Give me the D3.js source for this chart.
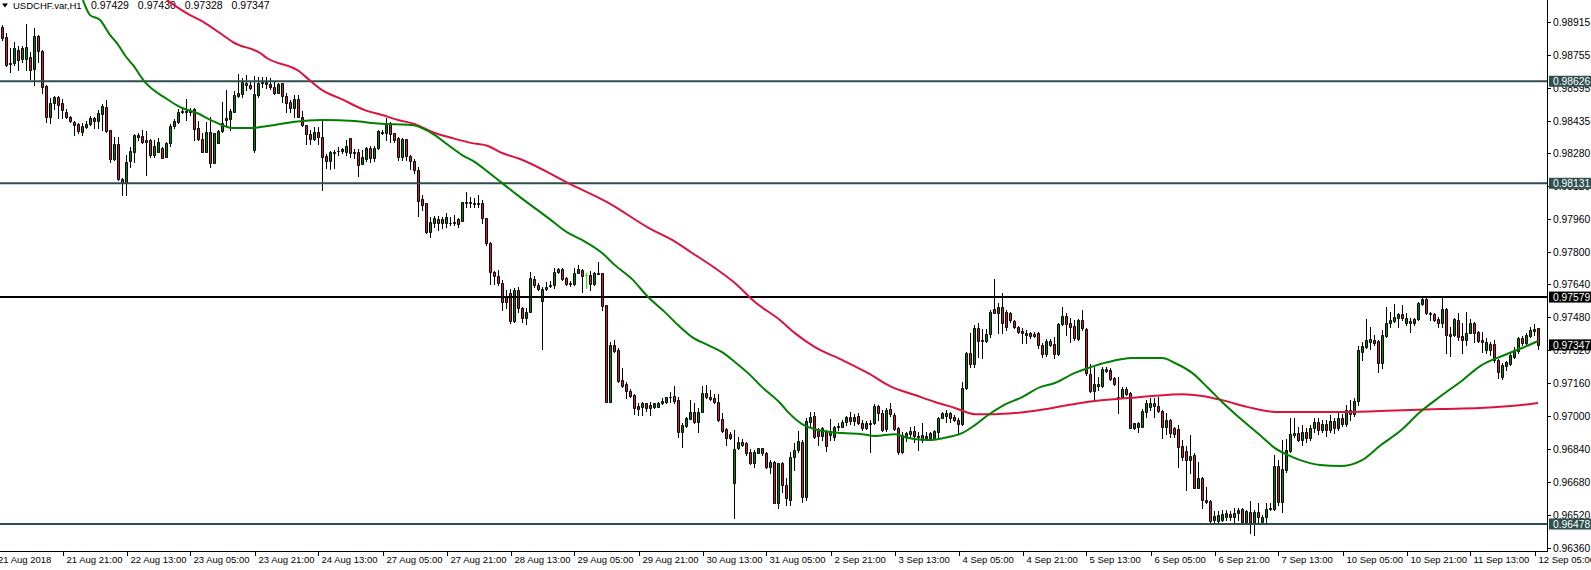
<!DOCTYPE html>
<html><head><meta charset="utf-8">
<script src="https://cdn.jsdelivr.net/npm/d3@7"></script>
<style>
html,body{margin:0;padding:0;background:#fff;overflow:hidden}
svg{display:block}
text{font-family:"Liberation Sans",Arial,sans-serif;font-size:9.5px;fill:#000}
text.num{font-size:10.3px}
text.ttl{font-size:10.5px;word-spacing:6px}
</style></head><body>
<svg id="chart" width="1591" height="570"></svg>
<script>
const symbolName = "USDCHF.var,H1";
const opens = [0.98891,0.98842,0.98713,0.98713,0.98777,0.98732,0.98732,0.98745,0.98684,0.98845,0.98773,0.98603,0.98451,0.98519,0.98551,0.98519,0.98478,0.98451,0.98427,0.98418,
0.98381,0.98405,0.98417,0.98446,0.98434,0.98467,0.98499,0.98389,0.98247,0.98321,0.98152,0.98134,0.98240,0.98284,0.98355,0.98360,0.98341,0.98341,0.98268,0.98284,
0.98300,0.98260,0.98325,0.98409,0.98427,0.98475,0.98483,0.98475,0.98490,0.98398,0.98344,0.98284,0.98378,0.98231,0.98328,0.98384,0.98446,0.98443,0.98478,0.98556,
0.98564,0.98619,0.98608,0.98292,0.98559,0.98617,0.98611,0.98612,0.98599,0.98570,0.98616,0.98554,0.98524,0.98497,0.98538,0.98451,0.98412,0.98368,0.98347,0.98380,
0.98357,0.98263,0.98240,0.98276,0.98286,0.98289,0.98284,0.98349,0.98284,0.98281,0.98224,0.98247,0.98303,0.98255,0.98300,0.98381,0.98373,0.98425,0.98373,0.98349,
0.98260,0.98346,0.98263,0.98240,0.98195,0.98053,0.98034,0.97896,0.97937,0.97957,0.97937,0.97937,0.97940,0.97941,0.97957,0.97949,0.98040,0.98040,0.98037,0.98030,
0.98034,0.97961,0.97842,0.97699,0.97681,0.97645,0.97580,0.97597,0.97463,0.97613,0.97524,0.97476,0.97505,0.97665,0.97637,0.97561,0.97616,0.97632,0.97637,0.97702,
0.97713,0.97670,0.97648,0.97643,0.97697,0.97710,0.97686,0.97686,0.97641,0.97697,0.97694,0.97540,0.97071,0.97346,0.97322,0.97176,0.97155,0.97124,0.97103,0.97052,
0.97044,0.97063,0.97039,0.97047,0.97047,0.97063,0.97068,0.97092,0.97099,0.97079,0.96925,0.96955,0.96987,0.97023,0.96974,0.97023,0.97112,0.97095,0.97087,0.97068,
0.96986,0.96937,0.96893,0.96678,0.96845,0.96877,0.96869,0.96828,0.96775,0.96824,0.96845,0.96824,0.96756,0.96780,0.96578,0.96772,0.96667,0.96594,0.96801,0.96837,
0.96877,0.96609,0.96974,0.97003,0.96934,0.96906,0.96929,0.96909,0.96901,0.96947,0.96950,0.96974,0.96998,0.96979,0.97002,0.96969,0.96942,0.96966,0.96966,0.97050,
0.97018,0.96937,0.97034,0.97006,0.96942,0.96828,0.96906,0.96914,0.96929,0.96906,0.96885,0.96905,0.96893,0.96896,0.96925,0.96990,0.97003,0.97015,0.96998,0.96982,
0.96963,0.97136,0.97306,0.97254,0.97427,0.97370,0.97367,0.97398,0.97519,0.97500,0.97529,0.97505,0.97503,0.97464,0.97432,0.97414,0.97395,0.97403,0.97398,0.97403,
0.97346,0.97301,0.97367,0.97351,0.97301,0.97447,0.97487,0.97454,0.97438,0.97374,0.97467,0.97424,0.97205,0.97124,0.97149,0.97149,0.97230,0.97225,0.97185,0.97092,
0.97092,0.97133,0.97112,0.96942,0.96950,0.96950,0.97023,0.97044,0.97066,0.97050,0.97027,0.96947,0.96982,0.96942,0.96937,0.96856,0.96832,0.96788,0.96812,0.96654,
0.96702,0.96594,0.96589,0.96497,0.96494,0.96497,0.96513,0.96526,0.96513,0.96530,0.96549,0.96489,0.96537,0.96481,0.96537,0.96489,0.96513,0.96550,0.96550,0.96759,
0.96583,0.96740,0.96833,0.96909,0.96918,0.96885,0.96924,0.96895,0.96943,0.96972,0.96934,0.96963,0.96934,0.96977,0.96943,0.96992,0.96963,0.97031,0.97011,0.97074,
0.97314,0.97338,0.97362,0.97370,0.97365,0.97260,0.97391,0.97454,0.97464,0.97476,0.97497,0.97451,0.97464,0.97451,0.97471,0.97545,0.97568,0.97500,0.97497,0.97471,
0.97454,0.97519,0.97399,0.97395,0.97467,0.97390,0.97370,0.97406,0.97451,0.97411,0.97370,0.97322,0.97351,0.97351,0.97273,0.97192,0.97244,0.97254,0.97289,0.97318,
0.97379,0.97357,0.97390,0.97414,0.97429];
const highs = [0.98899,0.98860,0.98787,0.98818,0.98797,0.98797,0.98902,0.98768,0.98883,0.98850,0.98777,0.98608,0.98543,0.98554,0.98554,0.98538,0.98490,0.98457,0.98434,0.98425,
0.98422,0.98434,0.98457,0.98451,0.98486,0.98514,0.98535,0.98389,0.98357,0.98354,0.98156,0.98268,0.98308,0.98370,0.98373,0.98389,0.98384,0.98344,0.98341,0.98349,
0.98308,0.98332,0.98417,0.98441,0.98490,0.98490,0.98538,0.98495,0.98495,0.98433,0.98373,0.98430,0.98454,0.98373,0.98389,0.98524,0.98583,0.98490,0.98580,0.98661,
0.98640,0.98656,0.98624,0.98651,0.98648,0.98648,0.98645,0.98640,0.98621,0.98619,0.98619,0.98567,0.98535,0.98559,0.98559,0.98483,0.98412,0.98389,0.98405,0.98405,
0.98433,0.98273,0.98287,0.98292,0.98308,0.98303,0.98341,0.98349,0.98296,0.98296,0.98292,0.98308,0.98312,0.98312,0.98389,0.98389,0.98449,0.98430,0.98376,0.98357,
0.98349,0.98346,0.98268,0.98247,0.98211,0.98074,0.98034,0.97969,0.97972,0.97972,0.97969,0.97988,0.97969,0.97977,0.97961,0.98041,0.98090,0.98066,0.98061,0.98074,
0.98050,0.97961,0.97847,0.97707,0.97710,0.97661,0.97613,0.97616,0.97621,0.97629,0.97532,0.97524,0.97699,0.97681,0.97648,0.97629,0.97653,0.97658,0.97718,0.97721,
0.97718,0.97675,0.97658,0.97718,0.97734,0.97713,0.97694,0.97707,0.97702,0.97750,0.97697,0.97540,0.97362,0.97370,0.97330,0.97233,0.97168,0.97133,0.97108,0.97063,
0.97071,0.97066,0.97071,0.97066,0.97071,0.97087,0.97095,0.97120,0.97147,0.97095,0.96966,0.96998,0.97079,0.97063,0.97039,0.97149,0.97152,0.97128,0.97108,0.97108,
0.97018,0.96942,0.96925,0.96934,0.96901,0.96889,0.96877,0.96840,0.96837,0.96845,0.96845,0.96828,0.96788,0.96785,0.96774,0.96778,0.96701,0.96828,0.96869,0.96929,
0.96885,0.96992,0.97023,0.97023,0.96942,0.96950,0.96934,0.96986,0.96953,0.96966,0.96982,0.97003,0.97023,0.97011,0.97018,0.96982,0.96977,0.96982,0.97058,0.97055,
0.97031,0.97039,0.97063,0.97015,0.96950,0.96925,0.96925,0.96950,0.96953,0.96925,0.96966,0.96925,0.96925,0.96934,0.96998,0.97023,0.97031,0.97023,0.97006,0.96990,
0.97168,0.97314,0.97403,0.97443,0.97451,0.97422,0.97422,0.97516,0.97665,0.97548,0.97597,0.97516,0.97508,0.97467,0.97438,0.97427,0.97419,0.97411,0.97411,0.97411,
0.97354,0.97374,0.97374,0.97386,0.97451,0.97529,0.97500,0.97476,0.97467,0.97471,0.97516,0.97427,0.97254,0.97238,0.97192,0.97238,0.97238,0.97233,0.97189,0.97189,
0.97144,0.97141,0.97120,0.96969,0.96974,0.97034,0.97079,0.97087,0.97087,0.97092,0.97031,0.97018,0.96986,0.96950,0.96958,0.96885,0.96856,0.96909,0.96821,0.96780,
0.96707,0.96659,0.96594,0.96542,0.96542,0.96546,0.96546,0.96542,0.96554,0.96554,0.96554,0.96546,0.96591,0.96546,0.96578,0.96521,0.96578,0.96578,0.96812,0.96788,
0.96885,0.96889,0.96990,0.96990,0.96950,0.96958,0.96943,0.96958,0.96992,0.96992,0.96982,0.96982,0.97006,0.96992,0.97021,0.97011,0.97055,0.97079,0.97089,0.97341,
0.97362,0.97471,0.97435,0.97395,0.97370,0.97419,0.97532,0.97508,0.97544,0.97503,0.97540,0.97500,0.97476,0.97476,0.97556,0.97578,0.97584,0.97508,0.97503,0.97483,
0.97578,0.97524,0.97435,0.97476,0.97503,0.97451,0.97505,0.97471,0.97459,0.97415,0.97411,0.97379,0.97362,0.97370,0.97277,0.97257,0.97270,0.97306,0.97338,0.97386,
0.97390,0.97406,0.97435,0.97447,0.97430];
const lows = [0.98826,0.98700,0.98672,0.98705,0.98680,0.98719,0.98680,0.98635,0.98608,0.98721,0.98567,0.98430,0.98422,0.98490,0.98446,0.98446,0.98446,0.98430,0.98365,0.98373,
0.98365,0.98398,0.98414,0.98398,0.98398,0.98389,0.98381,0.98236,0.98244,0.98147,0.98074,0.98074,0.98211,0.98236,0.98341,0.98325,0.98171,0.98260,0.98260,0.98284,
0.98252,0.98257,0.98312,0.98398,0.98422,0.98470,0.98438,0.98462,0.98341,0.98341,0.98281,0.98281,0.98211,0.98228,0.98328,0.98378,0.98414,0.98389,0.98475,0.98551,
0.98551,0.98583,0.98588,0.98284,0.98551,0.98599,0.98592,0.98587,0.98564,0.98567,0.98527,0.98478,0.98478,0.98454,0.98451,0.98409,0.98321,0.98321,0.98341,0.98321,
0.98098,0.98203,0.98200,0.98203,0.98268,0.98276,0.98268,0.98260,0.98255,0.98168,0.98224,0.98239,0.98236,0.98240,0.98296,0.98370,0.98341,0.98332,0.98332,0.98244,
0.98244,0.98244,0.98199,0.98179,0.97972,0.98001,0.97888,0.97872,0.97920,0.97904,0.97912,0.97920,0.97928,0.97928,0.97920,0.97949,0.98017,0.98017,0.98017,0.98017,
0.97937,0.97831,0.97641,0.97641,0.97637,0.97516,0.97524,0.97451,0.97459,0.97508,0.97459,0.97448,0.97505,0.97629,0.97613,0.97325,0.97613,0.97629,0.97621,0.97694,
0.97661,0.97637,0.97634,0.97637,0.97694,0.97602,0.97624,0.97613,0.97637,0.97689,0.97516,0.97071,0.97071,0.97314,0.97168,0.97144,0.97087,0.97095,0.97011,0.97006,
0.97006,0.97027,0.97006,0.97039,0.97047,0.97060,0.97063,0.97071,0.97066,0.96898,0.96853,0.96950,0.96987,0.96966,0.96925,0.97020,0.97087,0.97079,0.97063,0.96979,
0.96925,0.96861,0.96889,0.96505,0.96840,0.96856,0.96812,0.96769,0.96756,0.96821,0.96812,0.96748,0.96724,0.96578,0.96555,0.96633,0.96570,0.96570,0.96740,0.96828,
0.96584,0.96594,0.96950,0.96893,0.96861,0.96885,0.96833,0.96885,0.96885,0.96934,0.96947,0.96958,0.96961,0.96958,0.96963,0.96934,0.96937,0.96828,0.96963,0.96982,
0.96930,0.96930,0.97003,0.96934,0.96817,0.96821,0.96882,0.96901,0.96877,0.96837,0.96877,0.96885,0.96885,0.96893,0.96893,0.96990,0.96974,0.96974,0.96977,0.96914,
0.96958,0.97131,0.97241,0.97241,0.97289,0.97282,0.97362,0.97386,0.97500,0.97403,0.97403,0.97419,0.97459,0.97427,0.97406,0.97357,0.97357,0.97379,0.97386,0.97330,
0.97289,0.97293,0.97341,0.97284,0.97298,0.97443,0.97395,0.97362,0.97370,0.97370,0.97419,0.97201,0.97120,0.97074,0.97128,0.97144,0.97217,0.97176,0.97152,0.97018,
0.97087,0.97103,0.96942,0.96937,0.96925,0.96947,0.96998,0.97031,0.96998,0.97023,0.96893,0.96914,0.96901,0.96901,0.96756,0.96788,0.96643,0.96724,0.96651,0.96651,
0.96554,0.96578,0.96489,0.96481,0.96489,0.96492,0.96497,0.96497,0.96489,0.96497,0.96484,0.96481,0.96432,0.96424,0.96481,0.96484,0.96481,0.96546,0.96546,0.96570,
0.96537,0.96731,0.96828,0.96901,0.96882,0.96861,0.96875,0.96885,0.96924,0.96914,0.96924,0.96905,0.96924,0.96919,0.96934,0.96953,0.96953,0.96982,0.97002,0.97055,
0.97273,0.97330,0.97325,0.97346,0.97217,0.97233,0.97386,0.97435,0.97459,0.97435,0.97467,0.97443,0.97411,0.97443,0.97467,0.97540,0.97497,0.97467,0.97464,0.97435,
0.97435,0.97306,0.97293,0.97390,0.97370,0.97309,0.97346,0.97403,0.97362,0.97362,0.97314,0.97306,0.97298,0.97265,0.97185,0.97181,0.97225,0.97249,0.97282,0.97306,
0.97346,0.97351,0.97386,0.97395,0.97328];
const closes = [0.98837,0.98705,0.98708,0.98786,0.98729,0.98789,0.98790,0.98680,0.98845,0.98773,0.98599,0.98451,0.98519,0.98548,0.98511,0.98486,0.98451,0.98434,0.98414,0.98384,
0.98409,0.98418,0.98446,0.98434,0.98470,0.98507,0.98386,0.98247,0.98321,0.98150,0.98134,0.98236,0.98287,0.98365,0.98365,0.98332,0.98332,0.98268,0.98312,0.98330,
0.98255,0.98328,0.98409,0.98433,0.98478,0.98483,0.98475,0.98486,0.98393,0.98344,0.98284,0.98378,0.98231,0.98373,0.98384,0.98422,0.98438,0.98481,0.98559,0.98570,
0.98624,0.98608,0.98592,0.98564,0.98619,0.98622,0.98624,0.98596,0.98567,0.98611,0.98554,0.98522,0.98497,0.98538,0.98451,0.98412,0.98368,0.98347,0.98380,0.98357,
0.98260,0.98240,0.98281,0.98284,0.98289,0.98296,0.98312,0.98276,0.98276,0.98219,0.98260,0.98300,0.98255,0.98300,0.98384,0.98373,0.98414,0.98370,0.98341,0.98260,
0.98344,0.98263,0.98240,0.98195,0.98046,0.98025,0.97896,0.97941,0.97961,0.97937,0.97956,0.97969,0.97937,0.97937,0.97933,0.98038,0.98034,0.98034,0.98030,0.98037,
0.97961,0.97840,0.97699,0.97681,0.97645,0.97556,0.97556,0.97463,0.97613,0.97524,0.97476,0.97508,0.97670,0.97637,0.97616,0.97616,0.97629,0.97637,0.97702,0.97713,
0.97665,0.97641,0.97641,0.97697,0.97713,0.97681,0.97686,0.97641,0.97694,0.97689,0.97537,0.97071,0.97346,0.97318,0.97171,0.97147,0.97124,0.97100,0.97039,0.97034,
0.97063,0.97042,0.97055,0.97063,0.97066,0.97074,0.97092,0.97095,0.97076,0.96925,0.96958,0.96990,0.97020,0.96974,0.97023,0.97112,0.97092,0.97083,0.97071,0.96982,
0.96930,0.96893,0.96914,0.96840,0.96877,0.96861,0.96821,0.96775,0.96828,0.96845,0.96821,0.96756,0.96780,0.96578,0.96772,0.96667,0.96604,0.96801,0.96837,0.96882,
0.96609,0.96977,0.96998,0.96901,0.96906,0.96942,0.96857,0.96929,0.96947,0.96953,0.96974,0.96998,0.96979,0.96998,0.96966,0.96942,0.96969,0.96963,0.97050,0.97018,
0.96934,0.97031,0.97010,0.96939,0.96828,0.96909,0.96918,0.96930,0.96906,0.96901,0.96909,0.96893,0.96920,0.96929,0.96993,0.97015,0.97015,0.96990,0.96982,0.96963,
0.97136,0.97306,0.97254,0.97427,0.97367,0.97365,0.97398,0.97508,0.97503,0.97529,0.97451,0.97435,0.97467,0.97432,0.97411,0.97406,0.97406,0.97390,0.97390,0.97346,
0.97302,0.97367,0.97346,0.97301,0.97447,0.97487,0.97447,0.97435,0.97379,0.97467,0.97427,0.97209,0.97124,0.97157,0.97157,0.97230,0.97221,0.97181,0.97157,0.97087,
0.97131,0.97108,0.96942,0.96966,0.96966,0.97027,0.97063,0.97066,0.97050,0.97027,0.96950,0.96982,0.96918,0.96914,0.96853,0.96804,0.96788,0.96808,0.96654,0.96699,
0.96594,0.96583,0.96494,0.96516,0.96521,0.96526,0.96530,0.96510,0.96532,0.96546,0.96489,0.96542,0.96481,0.96537,0.96513,0.96513,0.96550,0.96557,0.96759,0.96583,
0.96744,0.96837,0.96914,0.96918,0.96885,0.96924,0.96895,0.96943,0.96972,0.96934,0.96963,0.96934,0.96977,0.96943,0.96992,0.96963,0.97031,0.97011,0.97074,0.97322,
0.97341,0.97370,0.97374,0.97354,0.97260,0.97395,0.97454,0.97467,0.97483,0.97497,0.97476,0.97476,0.97451,0.97471,0.97548,0.97568,0.97500,0.97495,0.97467,0.97454,
0.97519,0.97395,0.97390,0.97471,0.97386,0.97370,0.97406,0.97451,0.97406,0.97365,0.97359,0.97362,0.97322,0.97273,0.97217,0.97249,0.97265,0.97298,0.97322,0.97379,
0.97354,0.97395,0.97419,0.97422,0.97347];

// moving averages: [bar index, value]
const maFastBars = [20.1,21.9,24.4,26.9,28.6,31.1,32.6,35.4,41.1,44.4,48.6,52.6,57.6,62.6,64.4,68.1,73.1,79.9,88.1,93.1,98.1,102.4,104.9,108.1,111.4,114.9,118.1,121.4,124.9,129.4,136.4,141.4,144.9,149.9,153.1,157.4,161.4,165.6,168.9,172.4,176.4,179.9,183.1,186.4,189.9,194.4,196.4,199.9,203.9,209.9,214.9,218.1,223.1,226.4,231.4,236.4,239.9,243.1,246.4,249.9,254.9,259.4,263.1,268.1,271.4,276.4,282.4,289.9,293.1,297.4,301.4,304.9,309.9,314.9,318.1,321.4,324.4,329.4,334.4,339.9,344.6,349.4,354.4,359.6,365.1,369.4,374.9,379.9,383.9];
const maFastValues = [0.99020,0.98947,0.98923,0.98850,0.98811,0.98739,0.98705,0.98627,0.98540,0.98501,0.98472,0.98433,0.98399,0.98399,0.98404,0.98414,0.98430,0.98438,0.98433,0.98422,0.98417,0.98414,0.98399,0.98365,0.98317,0.98268,0.98234,0.98186,0.98132,0.98064,0.97963,0.97890,0.97856,0.97793,0.97734,0.97666,0.97579,0.97506,0.97443,0.97385,0.97346,0.97312,0.97264,0.97210,0.97142,0.97065,0.97021,0.96963,0.96934,0.96919,0.96914,0.96905,0.96914,0.96895,0.96885,0.96900,0.96919,0.96958,0.97007,0.97050,0.97094,0.97142,0.97162,0.97211,0.97235,0.97264,0.97283,0.97283,0.97259,0.97211,0.97138,0.97070,0.96982,0.96900,0.96846,0.96812,0.96788,0.96764,0.96759,0.96788,0.96861,0.96929,0.97021,0.97099,0.97177,0.97244,0.97293,0.97332,0.97366];
const maSlowBars = [41.1,46.9,49.4,56.1,57.6,64.4,66.1,74.4,75.6,79.9,84.9,90.6,94.9,98.9,103.1,107.4,112.4,117.4,121.4,124.9,129.4,141.4,151.6,161.6,167.4,172.4,178.1,183.1,188.1,194.4,198.1,203.1,209.9,216.4,222.4,228.1,233.1,238.1,243.1,248.1,253.1,259.4,266.4,273.1,281.4,287.4,294.9,299.9,304.9,311.4,318.9,324.4,334.4,344.4,359.4,369.4,376.9,383.9];
const maSlowValues = [0.99020,0.98947,0.98923,0.98836,0.98816,0.98763,0.98739,0.98671,0.98651,0.98583,0.98538,0.98486,0.98462,0.98438,0.98418,0.98380,0.98351,0.98326,0.98312,0.98278,0.98249,0.98132,0.98035,0.97914,0.97856,0.97793,0.97720,0.97647,0.97555,0.97467,0.97404,0.97336,0.97274,0.97210,0.97142,0.97104,0.97070,0.97041,0.97011,0.97011,0.97016,0.97031,0.97055,0.97075,0.97089,0.97099,0.97108,0.97099,0.97079,0.97045,0.97021,0.97021,0.97021,0.97026,0.97036,0.97041,0.97050,0.97065];

const levelPrices = [0.98626, 0.98131, 0.97579, 0.96478];
const priceTicks = [0.98915,0.98755,0.98595,0.98435,0.98280,0.98120,0.97960,0.97800,0.97640,0.97480,0.97320,0.97160,0.97000,0.96840,0.96680,0.96520,0.96360];
const timeTickBars = [0,15,31,47,63,79,95,111,127,143,159,175,191,207,223,239,255,271,287,303,319,335,351,367,383];
const timeTickLabels = ["21 Aug 2018","21 Aug 21:00","22 Aug 13:00","23 Aug 05:00","23 Aug 21:00","24 Aug 13:00","27 Aug 05:00","27 Aug 21:00","28 Aug 13:00","29 Aug 05:00","29 Aug 21:00","30 Aug 13:00","31 Aug 05:00","2 Sep 21:00","3 Sep 13:00","4 Sep 05:00","4 Sep 21:00","5 Sep 13:00","6 Sep 05:00","6 Sep 21:00","7 Sep 13:00","10 Sep 05:00","10 Sep 21:00","11 Sep 13:00","12 Sep 05:00"];

// styles
const levelColors = ["#2f4f4f","#2f4f4f","#000000","#2f4f4f"];
const bullFill = "#008000", bearFill = "#c8202d", dojiColor = "#00ff00";

const W = 1591, H = 570, plotR = 1547, plotB = 551;
const n = closes.length;
const x = d3.scaleLinear().domain([0, n - 1]).range([2.5, 2.5 + 4 * (n - 1)]);
const y = d3.scaleLinear().domain([0.96347, 0.990203]).range([plotB, 0]);

const svg = d3.select("#chart");
svg.append("rect").attr("width", W).attr("height", H).attr("fill", "#fff");
svg.append("defs").append("clipPath").attr("id", "plot")
  .append("rect").attr("x", 0).attr("y", 0).attr("width", plotR).attr("height", plotB);

// title
const last = n - 1;
const title = svg.append("g");
title.append("path").attr("d", "M2,3.5L8,3.5L5,7.5Z").attr("fill", "#000");
title.append("text").attr("x", 13).attr("y", 9).text(symbolName);
title.append("text").attr("class", "ttl").attr("x", 91).attr("y", 9)
  .text([opens[last], highs[last], lows[last], closes[last]].map(v => v.toFixed(5)).join(" "));

const plot = svg.append("g").attr("clip-path", "url(#plot)");

// candles
const candles = plot.append("g");
d3.range(n).forEach(i => {
  const cx = x(i);
  const o = opens[i], c = closes[i];
  const doji = o === c;
  const col = doji ? dojiColor : "#000";
  candles.append("line").attr("x1", cx).attr("x2", cx)
    .attr("y1", Math.round(y(highs[i]))).attr("y2", Math.round(y(lows[i])) + 1)
    .attr("stroke", col).attr("stroke-width", 1);
  const yt = Math.round(y(Math.max(o, c))), yb = Math.round(y(Math.min(o, c)));
  candles.append("path")
    .attr("d", `M${cx - 1},${yt + 0.5}H${cx + 1}V${yb + 0.5}H${cx - 1}Z`)
    .attr("fill", doji ? dojiColor : (c > o ? bullFill : bearFill))
    .attr("stroke", col).attr("stroke-width", 1);
});

// horizontal levels
levelPrices.forEach((p, k) => {
  plot.append("line").attr("x1", 0).attr("x2", plotR)
    .attr("y1", y(p)).attr("y2", y(p))
    .attr("stroke", levelColors[k]).attr("stroke-width", 2);
});

// moving averages
const line = d3.line().x(d => x(d[0])).y(d => y(d[1])).curve(d3.curveMonotoneX);
plot.append("path").datum(maSlowBars.map((b, k) => [b, maSlowValues[k]]))
  .attr("d", line).attr("fill", "none").attr("stroke", "#dc143c").attr("stroke-width", 2);
plot.append("path").datum(maFastBars.map((b, k) => [b, maFastValues[k]]))
  .attr("d", line).attr("fill", "none").attr("stroke", "#008000").attr("stroke-width", 2);

// axes lines
svg.append("line").attr("x1", plotR + 0.5).attr("x2", plotR + 0.5).attr("y1", 0).attr("y2", plotB + 1).attr("stroke", "#000");
svg.append("line").attr("x1", 0).attr("x2", plotR + 1).attr("y1", plotB + 0.5).attr("y2", plotB + 0.5).attr("stroke", "#000");

// price axis
const pa = svg.append("g");
priceTicks.forEach(p => {
  const yy = Math.round(y(p)) + 0.5;
  pa.append("line").attr("x1", plotR).attr("x2", plotR + 4).attr("y1", yy).attr("y2", yy).attr("stroke", "#000");
  pa.append("text").attr("class", "num").attr("x", plotR + 6).attr("y", yy + 3.7).text(p.toFixed(5));
});

// level labels
levelPrices.forEach((p, k) => {
  const yy = y(p);
  pa.append("rect").attr("x", plotR + 2).attr("y", yy - 5.5).attr("width", W - plotR - 2).attr("height", 11).attr("fill", levelColors[k]);
  pa.append("text").attr("class", "num").attr("x", plotR + 6).attr("y", yy + 3.7).style("fill", "#fff").text(p.toFixed(5));
});
// current price label
{
  const yy = y(closes[last]);
  pa.append("rect").attr("x", plotR + 2).attr("y", yy - 5.5).attr("width", W - plotR - 2).attr("height", 11).attr("fill", "#000");
  pa.append("text").attr("class", "num").attr("x", plotR + 6).attr("y", yy + 3.7).style("fill", "#fff").text(closes[last].toFixed(5));
}

// time axis
const ta = svg.append("g");
timeTickBars.forEach((b, k) => {
  const xx = k === 0 ? -5 : Math.round(x(b)) + 0.5;
  if (k > 0) ta.append("line").attr("x1", xx).attr("x2", xx).attr("y1", plotB).attr("y2", plotB + 5).attr("stroke", "#000");
  ta.append("text").attr("x", xx + 3).attr("y", plotB + 12).text(timeTickLabels[k]);
});
</script>
</body></html>
